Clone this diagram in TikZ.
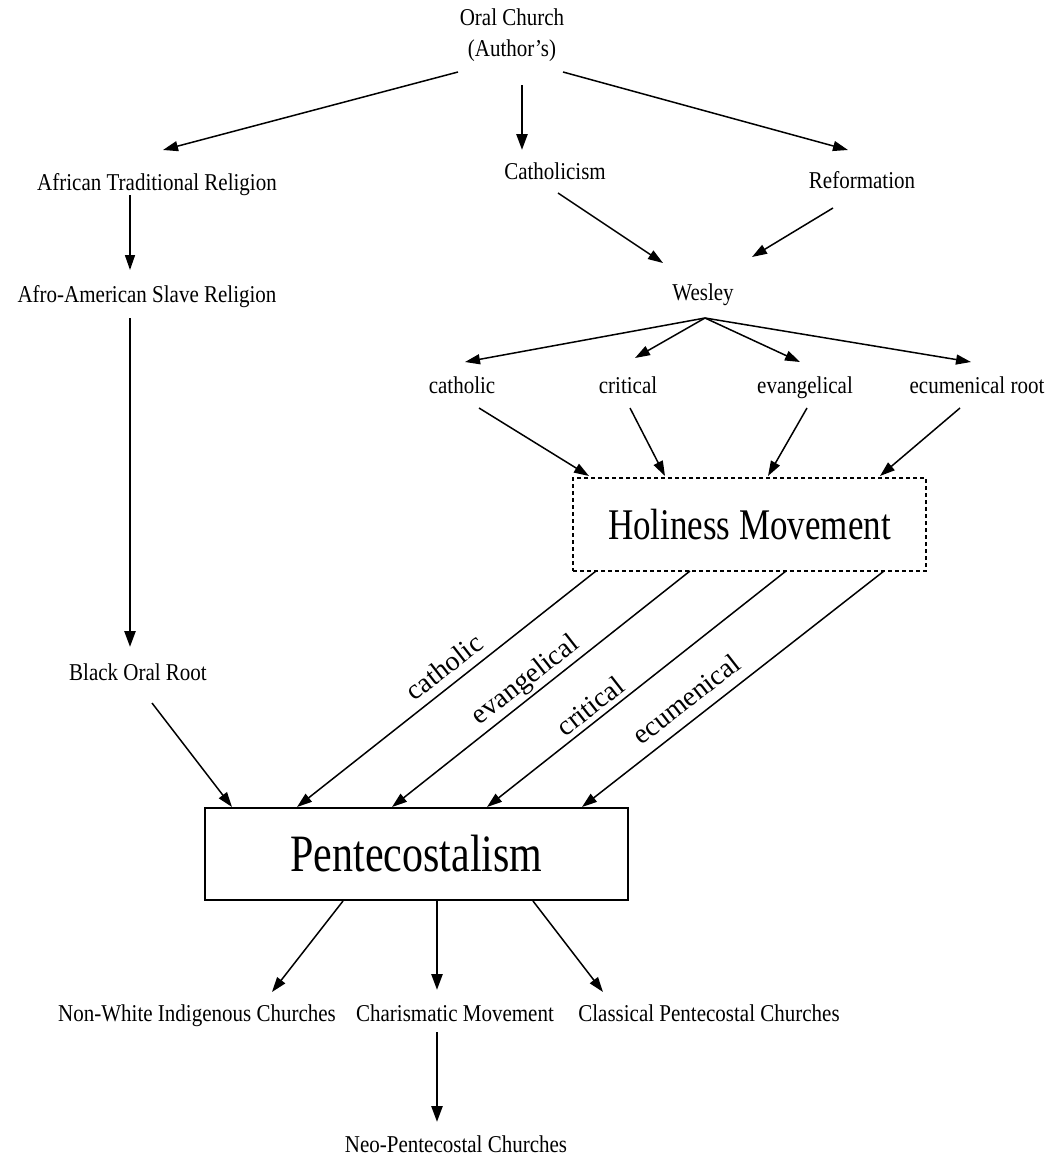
\documentclass[tikz,border=0pt]{standalone}
\usepackage{fontspec}
\setmainfont{Liberation Serif}
\usepackage{graphicx}
\usetikzlibrary{arrows.meta,calc}
\newcommand\vs[2][1.15]{\scalebox{1}[#1]{#2}}
\begin{document}
\begin{tikzpicture}[x=1pt,y=-1pt,
  lbl/.style={inner sep=0pt, font=\fontsize{21}{31}\selectfont, align=center},
  slbl/.style={lbl, text height=16pt, text depth=5pt},
  rlbl/.style={inner sep=0pt, font=\fontsize{28}{30}\selectfont, rotate=38},
  arr/.style={line width=1.5pt, -{Triangle[length=15pt,width=10pt]}},
  boldarr/.style={line width=2.6pt, -{Triangle[length=16pt,width=11pt]}},
  holbox/.style={draw, dash pattern=on 4pt off 3pt, line width=1.5pt, minimum width=353pt, minimum height=93pt, inner sep=0pt, font=\fontsize{35}{40}\selectfont},
  pentbox/.style={draw, line width=2.2pt, minimum width=423pt, minimum height=92pt, inner sep=0pt, font=\fontsize{42}{46}\selectfont}
]
\fill[white] (0,0) rectangle (1059,1159);
\useasboundingbox (0,0) rectangle (1059,1159);

% nodes
\node[lbl] (oral) at (512,35) {\vs{Oral Church}\\\vs{(Author’s)}};
\node[slbl] (atr) at (157,185) {\vs{African Traditional Religion}};
\node[slbl] (cath) at (555,174) {\vs{Catholicism}};
\node[slbl] (ref) at (862,183) {\vs{Reformation}};
\node[slbl] (afro) at (147,297) {\vs{Afro-American Slave Religion}};
\node[slbl] (wes) at (703,295) {\vs{Wesley}};
\node[slbl] (r1) at (462,388) {\vs{catholic}};
\node[slbl] (r2) at (628,388) {\vs{critical}};
\node[slbl] (r3) at (805,388) {\vs{evangelical}};
\node[slbl] (r4) at (977,388) {\vs{ecumenical root}};
\node[holbox] (hol) at (749.5,524.5) {\vs[1.25]{Holiness Movement}};
\node[slbl] (black) at (138,675) {\vs{Black Oral Root}};
\node[pentbox] (pent) at (416.5,854) {\vs[1.25]{Pentecostalism}};
\node[slbl] (nw) at (197,1016) {\vs{Non-White Indigenous Churches}};
\node[slbl] (cm) at (455,1016) {\vs{Charismatic Movement}};
\node[slbl] (cp) at (709,1016) {\vs{Classical Pentecostal Churches}};
\node[slbl] (neo) at (456,1147) {\vs{Neo-Pentecostal Churches}};

% rotated labels
\node[rlbl] (lcath) at (444,667) {catholic};
\node[rlbl] (levan) at (526,681) {evangelical};
\node[rlbl] (lcrit) at (590,706) {critical};
\node[rlbl] (lecum) at (686,699) {ecumenical};

% connectors
\draw[arr] ($(oral)+(-54,37)$) -- ($(atr)+(6,-35)$);
\draw[boldarr] ($(oral)+(10,50)$) -- ($(cath)+(-33,-24)$);
\draw[arr] ($(oral)+(51,37)$) -- ($(ref)+(-14,-33)$);
\draw[arr] ($(atr)+(-27,10)$) -- ($(afro)+(-17,-27)$);
\draw[arr] ($(cath)+(3,19)$) -- ($(wes)+(-40,-32)$);
\draw[arr] ($(ref)+(-29,25)$) -- ($(wes)+(49,-38)$);
\draw[arr] ($(wes)+(2,23)$) -- ($(r1)+(3,-26)$);
\draw[arr] ($(wes)+(2,23)$) -- ($(r2)+(7,-30)$);
\draw[arr] ($(wes)+(2,23)$) -- ($(r3)+(-5,-26)$);
\draw[arr] ($(wes)+(2,23)$) -- ($(r4)+(-6,-26)$);
\draw[arr] ($(r1)+(17,20)$) -- ($(hol)+(-160.5,-48.5)$);
\draw[arr] ($(r2)+(2,20)$) -- ($(hol)+(-84.5,-48.5)$);
\draw[arr] ($(r3)+(2,20)$) -- ($(hol)+(18.5,-48.5)$);
\draw[arr] ($(r4)+(-17,20)$) -- ($(hol)+(130.5,-48.5)$);
\draw[arr] ($(hol)+(-153.5,46.5)$) -- ($(pent)+(-119.5,-47)$);
\draw[arr] ($(hol)+(-59.5,46.5)$) -- ($(pent)+(-24.5,-47)$);
\draw[arr] ($(hol)+(36.5,46.5)$) -- ($(pent)+(70.5,-47)$);
\draw[arr] ($(hol)+(134.5,46.5)$) -- ($(pent)+(165.5,-47)$);
\draw[boldarr] ($(afro)+(-17,21)$) -- ($(black)+(-8,-28)$);
\draw[arr] ($(black)+(14,28)$) -- ($(pent)+(-184.5,-47)$);
\draw[arr] ($(pent)+(-73.5,47)$) -- ($(nw)+(75,-24)$);
\draw[boldarr] ($(pent)+(20.5,47)$) -- ($(cm)+(-18,-26)$);
\draw[arr] ($(pent)+(116.5,47)$) -- ($(cp)+(-106,-24)$);
\draw[boldarr] ($(cm)+(-18,16)$) -- ($(neo)+(-19,-25)$);
\end{tikzpicture}
\end{document}
